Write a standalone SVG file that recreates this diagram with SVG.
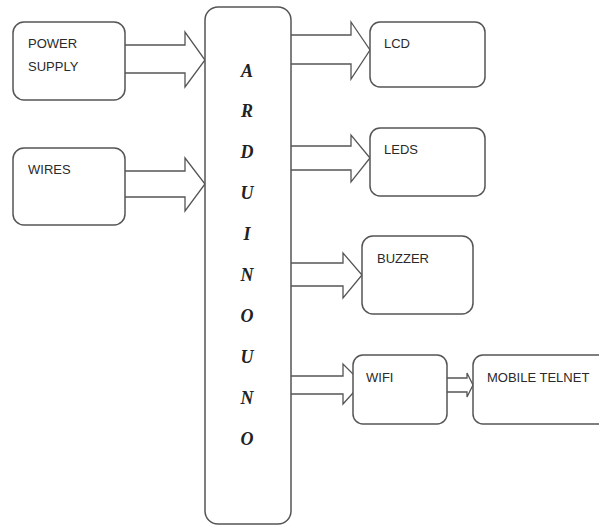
<svg xmlns="http://www.w3.org/2000/svg" width="599" height="526" viewBox="0 0 599 526">
<style>
.box{fill:#fff;stroke:#555;stroke-width:1.5}
.arr{fill:#fff;stroke:#555;stroke-width:1.3;stroke-linejoin:miter}
.lbl{font-family:"Liberation Sans",Arial,sans-serif;font-size:13px;fill:#2a2a2a}
.ard{font-family:"Liberation Serif","Times New Roman",serif;font-size:18px;font-weight:bold;font-style:italic;fill:#222;text-anchor:middle}
</style>
<rect width="599" height="526" fill="#fff"/>
<g id="connectors">
<path class="arr" d="M125,45 H185 V32 L205,60 L185,87 V73 H125"/>
<path class="arr" d="M125,171 H185 V158 L205,184 L185,211 V197 H125"/>
<path class="arr" d="M291,35 H351 V22 L370,50 L351,79 V64 H291"/>
<path class="arr" d="M291,146 H351 V135 L370,158 L351,182 V170 H291"/>
<path class="arr" d="M291,263 H343 V253 L362,275 L343,298 V286 H291"/>
<path class="arr" d="M291,376 H343 V364 L362,383 L343,404 V394 H291"/>
<path class="arr" d="M447,378 H467 V373 L473,385 L467,397 V392 H447"/>
</g>
<g id="power">
<rect class="box" x="13" y="22" width="112" height="78" rx="11"/>
<text class="lbl" x="28" y="48">POWER</text>
<text class="lbl" x="28" y="71">SUPPLY</text>
</g>
<g id="wires">
<rect class="box" x="13" y="148" width="112" height="77" rx="11"/>
<text class="lbl" x="28" y="174">WIRES</text>
</g>
<g id="arduino">
<rect class="box" x="205" y="7" width="86" height="517" rx="13"/>
<text class="ard" x="247" y="77">A</text>
<text class="ard" x="247" y="117">R</text>
<text class="ard" x="247" y="158">D</text>
<text class="ard" x="247" y="199">U</text>
<text class="ard" x="247" y="240">I</text>
<text class="ard" x="247" y="281">N</text>
<text class="ard" x="247" y="322">O</text>
<text class="ard" x="247" y="363">U</text>
<text class="ard" x="247" y="404">N</text>
<text class="ard" x="247" y="445">O</text>
</g>
<g id="lcd">
<rect class="box" x="370" y="22" width="115" height="65" rx="10"/>
<text class="lbl" x="384" y="48">LCD</text>
</g>
<g id="leds">
<rect class="box" x="370" y="128" width="115" height="68" rx="10"/>
<text class="lbl" x="384" y="154">LEDS</text>
</g>
<g id="buzzer">
<rect class="box" x="362" y="236" width="111" height="78" rx="11"/>
<text class="lbl" x="377" y="263">BUZZER</text>
</g>
<g id="wifi">
<rect class="box" x="353" y="355" width="94" height="69" rx="10"/>
<text class="lbl" x="366" y="382">WIFI</text>
</g>
<g id="mobile">
<rect class="box" x="473" y="355" width="140" height="69" rx="10"/>
<text class="lbl" x="487" y="382">MOBILE TELNET</text>
</g>
</svg>
